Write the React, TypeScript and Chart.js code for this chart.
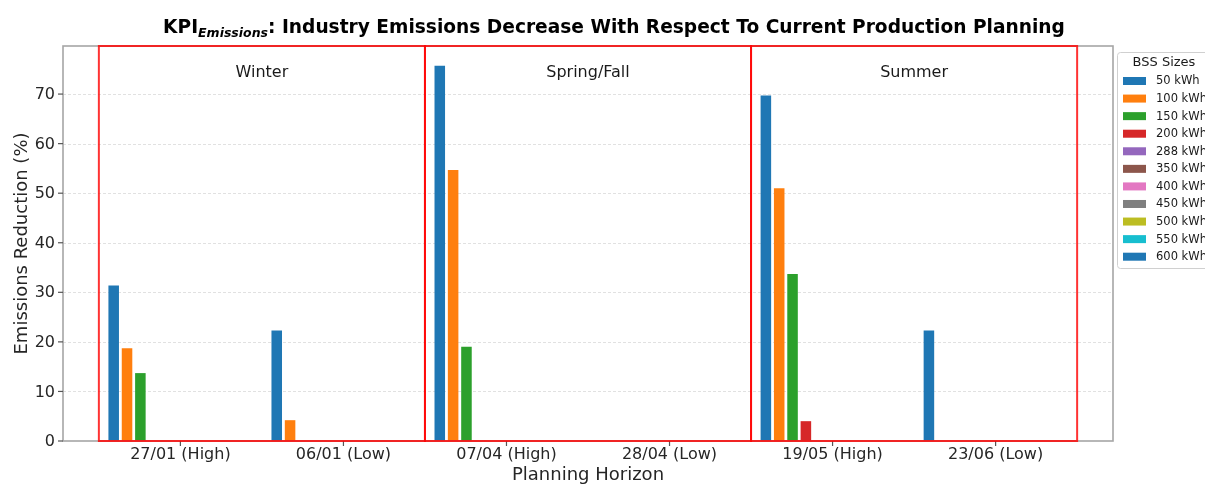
import React, { useEffect, useRef } from "react";
import { Chart, registerables } from "chart.js";

Chart.register(...registerables);

const categories = ["27/01 (High)", "06/01 (Low)", "07/04 (High)", "28/04 (Low)", "19/05 (High)", "23/06 (Low)"];
const seasons = ["Winter", "Spring/Fall", "Summer"];
const seriesNames = ["50 kWh", "100 kWh", "150 kWh", "200 kWh", "288 kWh", "350 kWh", "400 kWh", "450 kWh", "500 kWh", "550 kWh", "600 kWh"];
const s50 = [31.4, 22.3, 75.7, 0, 69.7, 22.3];
const s100 = [18.7, 4.2, 54.7, 0, 51.0, 0];
const s150 = [13.7, 0, 19.0, 0, 33.7, 0];
const s200 = [0, 0, 0, 0, 4.0, 0];
const s288 = [0, 0, 0, 0, 0, 0];
const s350 = [0, 0, 0, 0, 0, 0];
const s400 = [0, 0, 0, 0, 0, 0];
const s450 = [0, 0, 0, 0, 0, 0];
const s500 = [0, 0, 0, 0, 0, 0];
const s550 = [0, 0, 0, 0, 0, 0];
const s600 = [0, 0, 0, 0, 0, 0];
const seriesValues = [s50, s100, s150, s200, s288, s350, s400, s450, s500, s550, s600];
const colors = ["#1f77b4", "#ff7f0e", "#2ca02c", "#d62728", "#9467bd", "#8c564b", "#e377c2", "#7f7f7f", "#bcbd22", "#17becf", "#1f77b4"];
const yTicks = [0, 10, 20, 30, 40, 50, 60, 70];
const seasonBounds = [-0.5, 1.5, 3.5, 5.5];

const FONT = "'DejaVu Sans', sans-serif";

const drawPlugin = {
  id: "mplDecor",
  beforeDatasetsDraw(chart: any) {
    const { ctx, chartArea: a, scales } = chart;
    const y = scales.y;
    ctx.save();
    ctx.strokeStyle = "#d9d9d9";
    ctx.lineWidth = 0.8;
    ctx.setLineDash([3, 2]);
    yTicks.forEach((v) => {
      if (v === 0) return;
      const py = Math.round(y.getPixelForValue(v)) + 0.5;
      ctx.beginPath();
      ctx.moveTo(a.left, py);
      ctx.lineTo(a.right, py);
      ctx.stroke();
    });
    ctx.restore();
  },
  afterDatasetsDraw(chart: any) {
    const { ctx, chartArea: a, scales } = chart;
    const x = scales.x;
    const y = scales.y;
    ctx.save();
    // spines
    ctx.strokeStyle = "#a6a6a6";
    ctx.lineWidth = 1.6;
    ctx.strokeRect(a.left, a.top, a.right - a.left, a.bottom - a.top);
    // tick marks
    ctx.lineWidth = 1.2;
    ctx.strokeStyle = "#555";
    yTicks.forEach((v) => {
      const py = y.getPixelForValue(v);
      ctx.beginPath();
      ctx.moveTo(a.left - 5, py);
      ctx.lineTo(a.left, py);
      ctx.stroke();
    });
    categories.forEach((_, i) => {
      const px = x.getPixelForValue(i);
      ctx.beginPath();
      ctx.moveTo(px, a.bottom);
      ctx.lineTo(px, a.bottom + 5);
      ctx.stroke();
    });
    // red season boxes
    ctx.strokeStyle = "rgba(255,0,0,0.8)";
    ctx.lineWidth = 2;
    for (let k = 0; k < seasonBounds.length - 1; k++) {
      const x0 = x.getPixelForValue(seasonBounds[k]);
      const x1 = x.getPixelForValue(seasonBounds[k + 1]);
      ctx.strokeRect(x0, a.top, x1 - x0, a.bottom - a.top);
    }
    // season labels
    ctx.fillStyle = "#1a1a1a";
    ctx.font = `16px ${FONT}`;
    ctx.textAlign = "center";
    ctx.textBaseline = "middle";
    seasons.forEach((s, k) => {
      const cx = (x.getPixelForValue(seasonBounds[k]) + x.getPixelForValue(seasonBounds[k + 1])) / 2;
      ctx.fillText(s, cx, a.top + 27);
    });
    // tick labels
    ctx.fillStyle = "#262626";
    ctx.font = `16px ${FONT}`;
    ctx.textAlign = "right";
    ctx.textBaseline = "middle";
    yTicks.forEach((v) => {
      ctx.fillText(String(v), a.left - 8, y.getPixelForValue(v) + 1);
    });
    ctx.textAlign = "center";
    ctx.textBaseline = "top";
    categories.forEach((c, i) => {
      ctx.fillText(c, x.getPixelForValue(i), a.bottom + 6);
    });
    // axis titles
    ctx.font = `18px ${FONT}`;
    ctx.fillStyle = "#262626";
    ctx.textBaseline = "middle";
    ctx.fillText("Planning Horizon", (a.left + a.right) / 2, a.bottom + 34);
    ctx.save();
    ctx.translate(22, (a.top + a.bottom) / 2);
    ctx.rotate(-Math.PI / 2);
    ctx.fillText("Emissions Reduction (%)", 0, 0);
    ctx.restore();
    // title
    const t1 = "KPI";
    const t2 = "Emissions";
    const t3 = ": Industry Emissions Decrease With Respect To Current Production Planning";
    const bigFont = `bold 18.6px ${FONT}`;
    const subFont = `italic bold 12.5px ${FONT}`;
    ctx.font = bigFont;
    const w1 = ctx.measureText(t1).width;
    const w3 = ctx.measureText(t3).width;
    ctx.font = subFont;
    const w2 = ctx.measureText(t2).width;
    const total = w1 + w2 + w3;
    let tx = 614 - total / 2;
    const base = 33;
    ctx.textAlign = "left";
    ctx.textBaseline = "alphabetic";
    ctx.fillStyle = "#000";
    ctx.font = bigFont;
    ctx.fillText(t1, tx, base);
    tx += w1;
    ctx.font = subFont;
    ctx.fillText(t2, tx, base + 4);
    tx += w2;
    ctx.font = bigFont;
    ctx.fillText(t3, tx, base);
    // legend
    const lx = 1117;
    const ly = 52;
    const lw = 110;
    const lh = 216;
    ctx.fillStyle = "rgba(255,255,255,0.9)";
    ctx.strokeStyle = "#d0d0d0";
    ctx.lineWidth = 1;
    ctx.beginPath();
    (ctx as any).roundRect(lx + 0.5, ly + 0.5, lw, lh, 3);
    ctx.fill();
    ctx.stroke();
    ctx.fillStyle = "#1a1a1a";
    ctx.font = `13px ${FONT}`;
    ctx.textAlign = "center";
    ctx.textBaseline = "middle";
    ctx.fillText("BSS Sizes", 1164, 63);
    ctx.font = `11.5px ${FONT}`;
    ctx.textAlign = "left";
    seriesNames.forEach((n, k) => {
      const ry = 81 + k * 17.57;
      ctx.fillStyle = colors[k];
      ctx.fillRect(1123, ry - 4, 23, 8);
      ctx.fillStyle = "#1a1a1a";
      ctx.fillText(n, 1156, ry + 0.5);
    });
    ctx.restore();
  },
};

export default function App() {
  const ref = useRef<HTMLCanvasElement | null>(null);
  useEffect(() => {
    document.body.style.margin = "0";
    const canvas = ref.current;
    if (!canvas) return;
    const chart = new Chart(canvas, {
      type: "bar",
      data: {
        datasets: seriesValues.map((vals, k) => ({
          label: seriesNames[k],
          data: vals.map((v, i) => ({ x: i, y: v })),
          backgroundColor: colors[k],
          borderWidth: 0,
          categoryPercentage: 0.9,
          barPercentage: 0.79,
        })),
      },
      options: {
        responsive: false,
        animation: false,
        devicePixelRatio: 1,
        layout: { padding: { left: 63, top: 46, right: 92, bottom: 43 } },
        plugins: { legend: { display: false }, tooltip: { enabled: false }, title: { display: false } },
        scales: {
          x: {
            type: "linear",
            min: -0.72,
            max: 5.72,
            display: false,
            offset: false,
            afterBuildTicks: (scale: any) => {
              scale.ticks = categories.map((_, i) => ({ value: i }));
            },
          },
          y: { type: "linear", min: 0, max: 79.7, display: false },
        },
      },
      plugins: [drawPlugin],
    } as any);
    return () => chart.destroy();
  }, []);
  return <canvas ref={ref} width={1205} height={484} style={{ display: "block" }} />;
}
